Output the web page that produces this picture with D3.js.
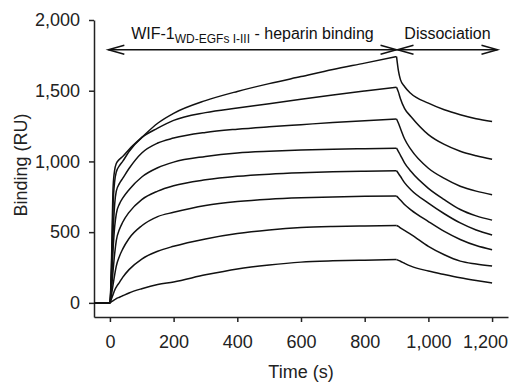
<!DOCTYPE html>
<html>
<head>
<meta charset="utf-8">
<script src="https://cdn.jsdelivr.net/npm/d3@7"></script>
<style>
  body { margin: 0; background: #fff; }
  svg { display: block; font-family: "Liberation Sans", Arial, sans-serif; }
  .axis path, .axis line { stroke: #222; stroke-width: 1.5; }
  .axis text { font-size: 18px; fill: #222; }
  .curve { fill: none; stroke: #111; stroke-width: 1.5; }
  .arrow { fill: none; stroke: #111; stroke-width: 1.5; }
</style>
</head>
<body>
<svg id="chart" width="510" height="386"></svg>
<script>
// time grid for association (incl. baseline before injection) and dissociation
const assocTime = [-50, 0, 5, 10, 15, 20, 30, 40, 60, 100, 150, 200, 300, 400, 500, 600, 700, 800, 900];
const dissocTime = [900, 906, 912, 925, 945, 1000, 1050, 1100, 1150, 1200];

// binding (RU), highest concentration first
const assoc1 = [0, 0, 300, 820, 940, 985, 1015, 1035, 1085, 1170, 1270, 1340, 1430, 1495, 1550, 1600, 1650, 1695, 1741];
const assoc2 = [0, 0, 250, 700, 860, 925, 970, 1000, 1070, 1168, 1235, 1290, 1345, 1378, 1408, 1440, 1470, 1498, 1525];
const assoc3 = [0, 0, 200, 500, 700, 790, 845, 880, 950, 1060, 1130, 1165, 1205, 1228, 1245, 1260, 1275, 1288, 1300];
const assoc4 = [0, 0, 150, 380, 540, 630, 700, 740, 800, 890, 955, 995, 1035, 1060, 1072, 1080, 1086, 1090, 1094];
const assoc5 = [0, 0, 100, 230, 350, 440, 520, 570, 640, 730, 790, 828, 870, 895, 910, 920, 927, 931, 934];
const assoc6 = [0, 0, 60, 130, 200, 260, 330, 380, 455, 545, 610, 640, 688, 716, 733, 743, 749, 753, 755];
const assoc7 = [0, 0, 30, 60, 90, 112, 145, 180, 235, 310, 365, 400, 452, 490, 515, 532, 540, 544, 547];
const assoc8 = [0, 0, 8, 15, 22, 30, 40, 50, 70, 100, 130, 148, 198, 240, 268, 288, 297, 302, 306];

const dissoc1 = [1741, 1640, 1580, 1530, 1480, 1412, 1365, 1330, 1302, 1282];
const dissoc2 = [1525, 1490, 1445, 1375, 1318, 1190, 1120, 1072, 1040, 1015];
const dissoc3 = [1300, 1270, 1235, 1160, 1085, 952, 880, 825, 790, 765];
const dissoc4 = [1094, 1070, 1045, 990, 930, 810, 730, 660, 615, 585];
const dissoc5 = [934, 915, 895, 850, 800, 705, 630, 565, 515, 480];
const dissoc6 = [755, 742, 728, 695, 658, 575, 505, 448, 405, 376];
const dissoc7 = [547, 540, 530, 512, 485, 400, 340, 295, 275, 260];
const dissoc8 = [306, 300, 294, 280, 260, 225, 200, 177, 158, 141];

const assocSeries = [assoc1, assoc2, assoc3, assoc4, assoc5, assoc6, assoc7, assoc8];
const dissocSeries = [dissoc1, dissoc2, dissoc3, dissoc4, dissoc5, dissoc6, dissoc7, dissoc8];

const xTicks = [0, 200, 400, 600, 800, 1000, 1200];
const yTicks = [0, 500, 1000, 1500, 2000];

// phase arrows: [start, end] in s, drawn at a fixed binding level
const phaseStart = [-5, 903];
const phaseEnd = [900, 1217];
const arrowLevel = 1790;

const width = 510;
const svg = d3.select('#chart');

const x = d3.scaleLinear().domain([-50, 1250]).range([94, 508]);
const y = d3.scaleLinear().domain([-100, 2000]).range([317, 20]);

// axes
const gx = svg.append('g')
  .attr('class', 'axis')
  .attr('transform', 'translate(0,317)')
  .call(d3.axisBottom(x).tickValues(xTicks).tickFormat(d3.format(','))
    .tickSize(5).tickSizeOuter(0).tickPadding(13));

svg.append('g')
  .attr('class', 'axis')
  .attr('transform', 'translate(94,0)')
  .call(d3.axisLeft(y).tickValues(yTicks).tickFormat(d3.format(','))
    .tickSize(5).tickSizeOuter(0).tickPadding(9));

svg.selectAll('.axis text').attr('font-family', null);

// pull the last tick label back inside the page
gx.selectAll('.tick').each(function () {
  const box = this.getBBox();
  const tx = this.transform.baseVal.consolidate().matrix.e;
  const over = tx + box.x + box.width - (width - 2);
  if (over > 0) d3.select(this).select('text').attr('dx', -over);
});

// axis titles
svg.append('text')
  .attr('x', 301)
  .attr('y', 378)
  .attr('text-anchor', 'middle')
  .attr('font-size', 18)
  .attr('fill', '#222')
  .text('Time (s)');

svg.append('text')
  .attr('transform', 'translate(27,165) rotate(-90)')
  .attr('text-anchor', 'middle')
  .attr('font-size', 18)
  .attr('fill', '#222')
  .text('Binding (RU)');

// sensorgram curves
const line = d3.line()
  .x((d) => x(d[0]))
  .y((d) => y(d[1]))
  .curve(d3.curveMonotoneX);

assocSeries.forEach((vals, i) => {
  svg.append('path')
    .attr('class', 'curve')
    .attr('d', line(assocTime.map((t, j) => [t, vals[j]])));
  svg.append('path')
    .attr('class', 'curve')
    .attr('d', line(dissocTime.map((t, j) => [t, dissocSeries[i][j]])));
});

// phase arrows
const ay = y(arrowLevel);
phaseStart.forEach((s, i) => {
  const x0 = x(s);
  const x1 = x(phaseEnd[i]);
  svg.append('line').attr('class', 'arrow')
    .attr('x1', x0).attr('x2', x1).attr('y1', ay).attr('y2', ay);
  svg.append('path').attr('class', 'arrow')
    .attr('d', `M${x0 + 16},${ay - 4.5}L${x0},${ay}L${x0 + 16},${ay + 4.5}`);
  svg.append('path').attr('class', 'arrow')
    .attr('d', `M${x1 - 16},${ay - 4.5}L${x1},${ay}L${x1 - 16},${ay + 4.5}`);
});

const label1 = svg.append('text')
  .attr('x', (x(phaseStart[0]) + x(phaseEnd[0])) / 2)
  .attr('y', 38.5)
  .attr('text-anchor', 'middle')
  .attr('font-size', 16)
  .attr('fill', '#111');
label1.append('tspan').text('WIF-1');
label1.append('tspan').attr('font-size', 12).attr('dy', 4.5).text('WD-EGFs I-III');
label1.append('tspan').attr('dy', -4.5).text(' - heparin binding');

svg.append('text')
  .attr('x', (x(phaseStart[1]) + x(phaseEnd[1])) / 2)
  .attr('y', 38.5)
  .attr('text-anchor', 'middle')
  .attr('font-size', 16)
  .attr('fill', '#111')
  .text('Dissociation');
</script>
</body>
</html>
